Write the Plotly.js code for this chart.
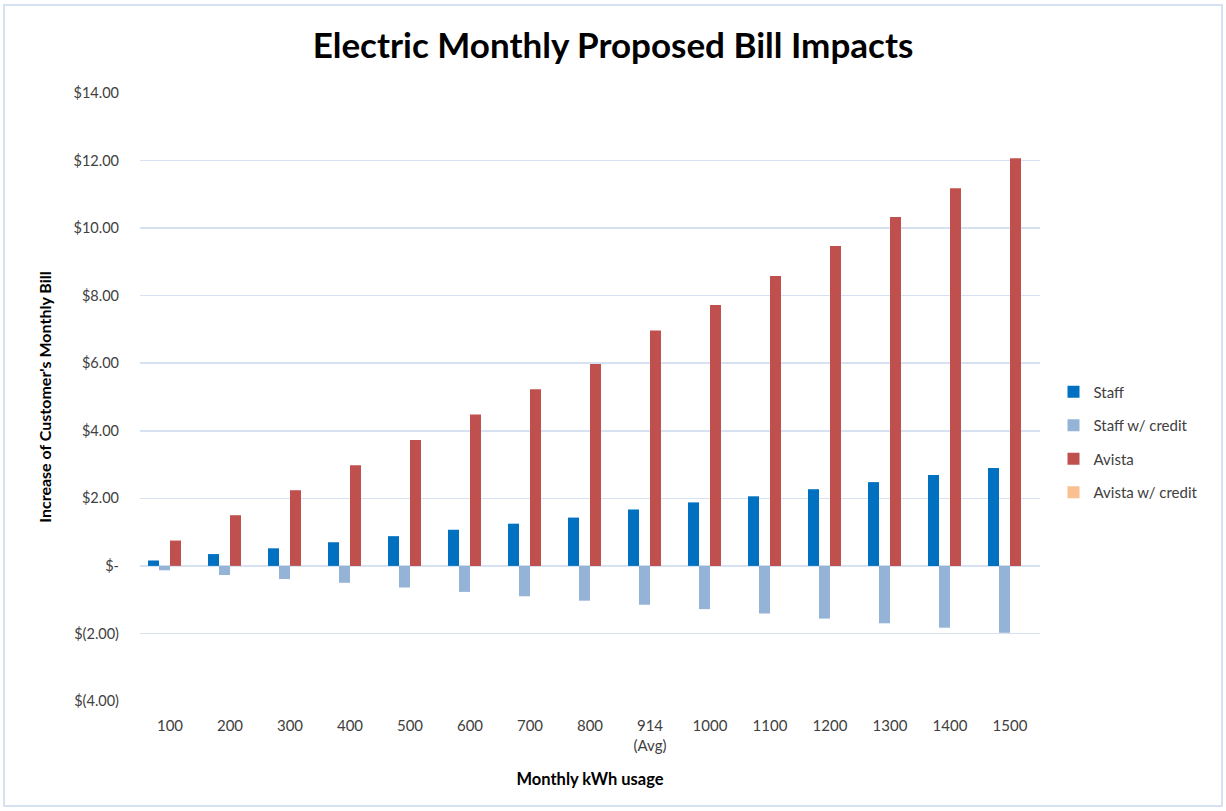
<!DOCTYPE html>
<html>
<head>
<meta charset="utf-8">
<script src="https://cdn.plot.ly/plotly-3.0.1.min.js"></script>
<style>
html,body{margin:0;padding:0;background:#fff;}
#chart{width:1226px;height:811px;}
</style>
</head>
<body>
<div id="chart"></div>
<script>
var categories = ["100","200","300","400","500","600","700","800","914","1000","1100","1200","1300","1400","1500"];
var tickLabels = ["100","200","300","400","500","600","700","800","914<br>(Avg)","1000","1100","1200","1300","1400","1500"];
var staff = [0.16,0.35,0.52,0.70,0.88,1.07,1.25,1.43,1.67,1.88,2.06,2.27,2.48,2.69,2.90];
var staffCredit = [-0.13,-0.27,-0.39,-0.50,-0.64,-0.77,-0.90,-1.03,-1.15,-1.28,-1.41,-1.56,-1.70,-1.83,-1.98];
var avista = [0.75,1.50,2.24,2.98,3.73,4.48,5.23,5.98,6.97,7.72,8.58,9.47,10.33,11.18,12.07];
var avistaCredit = [0,0,0,0,0,0,0,0,0,0,0,0,0,0,0];
var yTickVals = [14,12,10,8,6,4,2,0,-2,-4];
var yTickText = ["$14.00","$12.00","$10.00","$8.00","$6.00","$4.00","$2.00","$-","$(2.00)","$(4.00)"];
var seriesNames = ["Staff","Staff w/ credit","Avista","Avista w/ credit"];
var seriesColors = ["#0070c0","#95b3d7","#c0504d","#fac090"];
var seriesValues = [staff, staffCredit, avista, avistaCredit];

var W = 1226, H = 811;
var M = {l:140, r:186, t:93, b:110};
var pw = W - M.l - M.r, ph = H - M.t - M.b;

var traces = seriesValues.map(function(v, i){
  return {
    type: 'bar', x: categories, y: v, name: seriesNames[i],
    legendgroup: 'g' + i,
    marker: {color: seriesColors[i], line: {width: 0}},
    hoverinfo: 'x+y+name'
  };
});

var font = "Lato, 'Open Sans', 'DejaVu Sans', sans-serif";

var layout = {
  width: W, height: H,
  margin: M,
  paper_bgcolor: '#ffffff', plot_bgcolor: '#ffffff',
  barmode: 'group', bargap: 0.267, bargroupgap: 0,
  title: {text: '<b>Electric Monthly Proposed Bill Impacts</b>', x: 0.5, xanchor: 'center', xref: 'container', y: 0.944, yanchor: 'middle',
          font: {family: font, size: 35, color: '#000000'}},
  font: {family: font, size: 15, color: '#404040'},
  xaxis: {
    type: 'category', tickvals: categories, ticktext: tickLabels,
    showgrid: false, zeroline: false, showline: false, ticks: '',
    ticklabelstandoff: 14,
    tickfont: {family: font, size: 15, color: '#404040'},
    title: {text: '<b>Monthly kWh usage</b>', font: {family: font, size: 16.5, color: '#000000'}, standoff: 20}
  },
  yaxis: {
    range: [-4, 14], tickvals: yTickVals, ticktext: yTickText,
    showgrid: true, gridcolor: '#d6e1f2', gridwidth: 1.5,
    zeroline: true, zerolinecolor: '#d6e1f2', zerolinewidth: 1.5,
    showline: false, ticks: '', ticklabelstandoff: 20,
    tickfont: {family: font, size: 14.5, color: '#404040'},
    title: {text: "<b>Increase of Customer's Monthly Bill</b>", font: {family: font, size: 16, color: '#000000'}, standoff: 17}
  },
  legend: {
    x: 1.015, xref: 'paper', xanchor: 'left', y: 0.426, yanchor: 'middle',
    traceorder: 'grouped', tracegroupgap: 11,
    font: {family: font, size: 15, color: '#404040'},
    bgcolor: 'rgba(0,0,0,0)', itemclick: false
  },
  shapes: [{
    type: 'rect', xref: 'paper', yref: 'paper', layer: 'below',
    x0: (4 - M.l) / pw, x1: (W - 4 - M.l) / pw,
    y0: -(M.b - 5) / ph, y1: (H - 5 - M.b) / ph,
    line: {color: '#d6e1f2', width: 2}, fillcolor: 'rgba(0,0,0,0)'
  }],
  showlegend: true
};

Plotly.newPlot('chart', traces, layout, {displayModeBar: false, staticPlot: true});
</script>
</body>
</html>
